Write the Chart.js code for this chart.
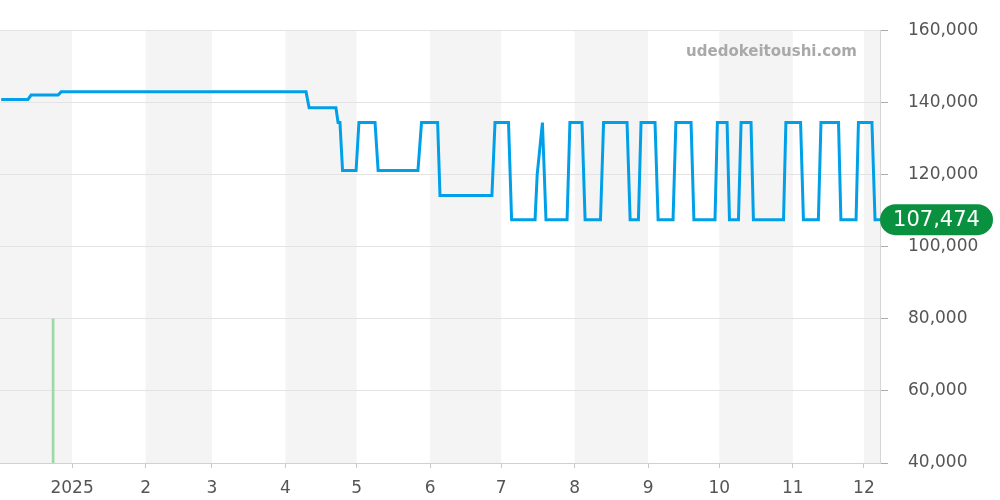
<!DOCTYPE html>
<html>
<head>
<meta charset="utf-8">
<script src="https://cdn.jsdelivr.net/npm/chart.js@4"></script>
<style>
  body { margin: 0; background: #fff; }
  #wrap { width: 1000px; height: 500px; }
</style>
</head>
<body>
<div id="wrap"><canvas id="priceChart" width="1000" height="500"></canvas></div>
<script>
// days counted from 2025-01-01
const monthStarts = [-31, 0, 31, 59, 90, 120, 151, 181, 212, 243, 273, 304, 334, 365];
const tickDays = [0, 31, 59, 90, 120, 151, 181, 212, 243, 273, 304, 334];
const tickLabels = ['2025', '2', '3', '4', '5', '6', '7', '8', '9', '10', '11', '12'];
const yTicks = [40000, 60000, 80000, 100000, 120000, 140000, 160000];

const priceDays = [
  -29.9, -18.6, -17.3, -5.9, -4.6, 98.7, 100.0, 111.3, 112.2, 113.0, 114.1,
  119.8, 121.0, 127.8, 129.1, 145.9, 147.4, 154.2, 155.2, 177.1, 178.4,
  184.1, 185.4, 195.3, 196.2, 198.4, 199.9, 208.8, 210.0, 215.1, 216.4,
  222.9, 224.2, 234.1, 235.4, 238.9, 240.0, 245.9, 247.2, 253.5, 254.7,
  261.1, 262.3, 271.2, 272.2, 276.3, 277.3, 281.1, 282.2, 286.4, 287.4,
  300.1, 301.1, 307.3, 308.5, 314.8, 315.9, 323.3, 324.3, 330.7, 331.7,
  337.4, 338.7, 340.8
];
const prices = [
  140800, 140800, 142000, 142000, 142900, 142900, 138500, 138500, 134400, 134400, 121100,
  121100, 134400, 134400, 121100, 121100, 134400, 134400, 114200, 114200, 134400,
  134400, 107474, 107474, 120000, 134400, 107474, 107474, 134400, 134400, 107474,
  107474, 134400, 134400, 107474, 107474, 134400, 134400, 107474, 107474, 134400,
  134400, 107474, 107474, 134400, 134400, 107474, 107474, 134400, 134400, 107474,
  107474, 134400, 134400, 107474, 107474, 134400, 134400, 107474, 107474, 134400,
  134400, 107474, 107474
];

const volumeDays = [-8];
const volumes = [1];

Chart.defaults.font.family = "'DejaVu Sans', sans-serif";

// alternating month shading behind the plot
const monthBands = {
  id: 'monthBands',
  beforeDraw(chart) {
    const { ctx, chartArea, scales } = chart;
    ctx.save();
    ctx.fillStyle = '#f4f4f4';
    for (let i = 0; i < monthStarts.length - 1; i += 2) {
      let x1 = Math.max(scales.x.getPixelForValue(monthStarts[i]), chartArea.left);
      let x2 = Math.min(scales.x.getPixelForValue(monthStarts[i + 1]), chartArea.right);
      if (x2 > x1) ctx.fillRect(x1, chartArea.top, x2 - x1, chartArea.bottom - chartArea.top);
    }
    ctx.restore();
  }
};

// watermark and last price badge
const extras = {
  id: 'extras',
  afterDraw(chart) {
    const { ctx, chartArea, scales } = chart;
    ctx.save();
    ctx.font = "bold 15px 'DejaVu Sans'";
    ctx.fillStyle = '#a9a9a9';
    ctx.textAlign = 'right';
    ctx.textBaseline = 'middle';
    ctx.fillText('udedokeitoushi.com', chartArea.right - 23, 52);

    const last = prices[prices.length - 1];
    const y = scales.y.getPixelForValue(last);
    const x = chartArea.right, w = 113, h = 31, r = 15.5;
    ctx.fillStyle = '#0a9140';
    ctx.beginPath();
    ctx.roundRect(x, y - h / 2, w, h, r);
    ctx.fill();
    ctx.fillStyle = '#fff';
    ctx.font = "21px 'DejaVu Sans'";
    ctx.textAlign = 'center';
    ctx.fillText(last.toLocaleString('en-US'), x + w / 2, y + 1);
    ctx.restore();
  }
};

new Chart(document.getElementById('priceChart'), {
  data: {
    datasets: [
      {
        type: 'line',
        data: priceDays.map((d, i) => ({ x: d, y: prices[i] })),
        borderColor: '#00a0e9',
        borderWidth: 3,
        pointRadius: 0,
        tension: 0,
        yAxisID: 'y',
        order: 1
      },
      {
        type: 'bar',
        data: volumeDays.map((d, i) => ({ x: d, y: volumes[i] })),
        backgroundColor: '#9dd8a6',
        barThickness: 2,
        yAxisID: 'yv',
        order: 2
      }
    ]
  },
  options: {
    responsive: false,
    devicePixelRatio: 1,
    animation: false,
    layout: { padding: { top: 23, left: 0, right: 0, bottom: 0 } },
    plugins: { legend: { display: false }, tooltip: { enabled: false } },
    scales: {
      x: {
        type: 'linear',
        offset: false,
        min: -30.4,
        max: 340.8,
        afterBuildTicks: (scale) => { scale.ticks = tickDays.map(v => ({ value: v })); },
        afterFit: (scale) => { scale.height = 37; },
        ticks: {
          autoSkip: false,
          maxRotation: 0,
          padding: 10,
          color: '#555',
          font: { size: 17 },
          callback: (v) => tickLabels[tickDays.indexOf(v)]
        },
        grid: { offset: false, drawOnChartArea: false, tickLength: 5, color: '#c8c8c8' },
        border: { color: '#b9e0be', dash: [2, 1] }
      },
      y: {
        position: 'right',
        min: 40000,
        max: 160000,
        afterBuildTicks: (scale) => { scale.ticks = yTicks.map(v => ({ value: v })); },
        afterFit: (scale) => { scale.width = 120; },
        ticks: {
          padding: 20,
          color: '#555',
          font: { size: 17 },
          callback: (v) => v.toLocaleString('en-US')
        },
        grid: { color: '#e3e3e3', tickLength: 8, tickColor: '#aaa' },
        border: { color: '#d5d5d5' }
      },
      yv: {
        display: false,
        min: 0,
        max: 3
      }
    }
  },
  plugins: [monthBands, extras]
});
</script>
</body>
</html>
